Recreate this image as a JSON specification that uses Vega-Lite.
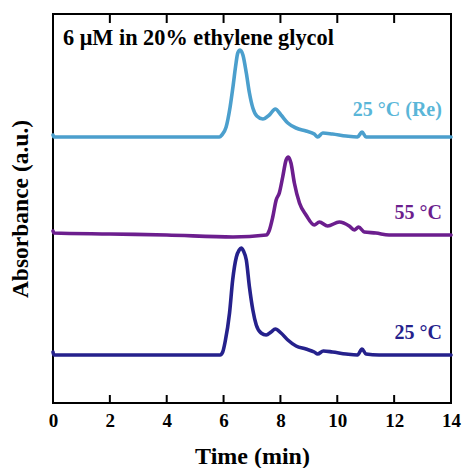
{
  "$schema": "https://vega.github.io/schema/vega-lite/v6.json",
  "width": 398,
  "height": 389,
  "autosize": {"type": "none"},
  "padding": {"left": 53, "top": 14, "right": 13, "bottom": 65},
  "background": "white",
  "config": {
    "view": {"stroke": "black", "strokeWidth": 2},
    "font": "Liberation Serif"
  },
  "datasets": {
    "curves": [
      {"series": "25", "t": 0, "a": 51}, {"series": "25", "t": 0.03, "a": 48}, {"series": "25", "t": 2, "a": 48}, {"series": "25", "t": 4, "a": 48}, {"series": "25", "t": 5.88, "a": 48}, {"series": "25", "t": 5.97, "a": 51}, {"series": "25", "t": 6.06, "a": 62}, {"series": "25", "t": 6.21, "a": 90}, {"series": "25", "t": 6.32, "a": 123}, {"series": "25", "t": 6.45, "a": 146}, {"series": "25", "t": 6.55, "a": 153}, {"series": "25", "t": 6.62, "a": 155}, {"series": "25", "t": 6.7, "a": 152}, {"series": "25", "t": 6.8, "a": 143}, {"series": "25", "t": 6.91, "a": 116}, {"series": "25", "t": 7.03, "a": 93}, {"series": "25", "t": 7.15, "a": 78}, {"series": "25", "t": 7.32, "a": 70}, {"series": "25", "t": 7.5, "a": 68}, {"series": "25", "t": 7.67, "a": 71}, {"series": "25", "t": 7.82, "a": 74}, {"series": "25", "t": 8.02, "a": 70}, {"series": "25", "t": 8.26, "a": 63}, {"series": "25", "t": 8.55, "a": 57}, {"series": "25", "t": 8.9, "a": 54}, {"series": "25", "t": 9.19, "a": 51}, {"series": "25", "t": 9.31, "a": 49}, {"series": "25", "t": 9.51, "a": 52}, {"series": "25", "t": 9.83, "a": 51}, {"series": "25", "t": 10.31, "a": 49}, {"series": "25", "t": 10.71, "a": 48}, {"series": "25", "t": 10.87, "a": 54}, {"series": "25", "t": 11.01, "a": 49}, {"series": "25", "t": 11.47, "a": 48}, {"series": "25", "t": 12, "a": 48}, {"series": "25", "t": 14, "a": 48},
      {"series": "55", "t": 0, "a": 172}, {"series": "55", "t": 0.03, "a": 170}, {"series": "55", "t": 2, "a": 169}, {"series": "55", "t": 4, "a": 168}, {"series": "55", "t": 6.33, "a": 166}, {"series": "55", "t": 7.5, "a": 168}, {"series": "55", "t": 7.6, "a": 172}, {"series": "55", "t": 7.73, "a": 186}, {"series": "55", "t": 7.85, "a": 203}, {"series": "55", "t": 7.96, "a": 210}, {"series": "55", "t": 8.08, "a": 226}, {"series": "55", "t": 8.2, "a": 243}, {"series": "55", "t": 8.28, "a": 246}, {"series": "55", "t": 8.37, "a": 240}, {"series": "55", "t": 8.49, "a": 220}, {"series": "55", "t": 8.67, "a": 200}, {"series": "55", "t": 8.9, "a": 188}, {"series": "55", "t": 9.19, "a": 178}, {"series": "55", "t": 9.37, "a": 181}, {"series": "55", "t": 9.66, "a": 177}, {"series": "55", "t": 10.07, "a": 181}, {"series": "55", "t": 10.42, "a": 177}, {"series": "55", "t": 10.6, "a": 173}, {"series": "55", "t": 10.75, "a": 176}, {"series": "55", "t": 10.95, "a": 171}, {"series": "55", "t": 11.36, "a": 170}, {"series": "55", "t": 11.82, "a": 168}, {"series": "55", "t": 14, "a": 168},
      {"series": "Re", "t": 0, "a": 268}, {"series": "Re", "t": 0.03, "a": 266}, {"series": "Re", "t": 2, "a": 266}, {"series": "Re", "t": 4, "a": 266}, {"series": "Re", "t": 5.85, "a": 266}, {"series": "Re", "t": 5.94, "a": 268}, {"series": "Re", "t": 6.09, "a": 276}, {"series": "Re", "t": 6.23, "a": 296}, {"series": "Re", "t": 6.33, "a": 316}, {"series": "Re", "t": 6.42, "a": 336}, {"series": "Re", "t": 6.5, "a": 350}, {"series": "Re", "t": 6.58, "a": 353}, {"series": "Re", "t": 6.68, "a": 348}, {"series": "Re", "t": 6.8, "a": 330}, {"series": "Re", "t": 6.91, "a": 310}, {"series": "Re", "t": 7.03, "a": 295}, {"series": "Re", "t": 7.17, "a": 287}, {"series": "Re", "t": 7.38, "a": 284}, {"series": "Re", "t": 7.61, "a": 288}, {"series": "Re", "t": 7.82, "a": 294}, {"series": "Re", "t": 8.02, "a": 288}, {"series": "Re", "t": 8.26, "a": 280}, {"series": "Re", "t": 8.55, "a": 275}, {"series": "Re", "t": 8.9, "a": 272}, {"series": "Re", "t": 9.19, "a": 269}, {"series": "Re", "t": 9.31, "a": 266}, {"series": "Re", "t": 9.49, "a": 270}, {"series": "Re", "t": 9.83, "a": 269}, {"series": "Re", "t": 10.31, "a": 267}, {"series": "Re", "t": 10.71, "a": 266}, {"series": "Re", "t": 10.87, "a": 271}, {"series": "Re", "t": 11.01, "a": 266}, {"series": "Re", "t": 11.47, "a": 266}, {"series": "Re", "t": 12, "a": 266}, {"series": "Re", "t": 14, "a": 266}
    ],
    "labels": [
      {"series": "Re", "t": 13.68, "a": 293, "label": "25 °C (Re)"},
      {"series": "55", "t": 13.68, "a": 190, "label": "55 °C"},
      {"series": "25", "t": 13.68, "a": 70, "label": "25 °C"}
    ],
    "heading": [
      {"t": 0.35, "a": 365, "label": "6 μM in 20% ethylene glycol"}
    ],
    "ticks": [
      {"t": 0}, {"t": 2}, {"t": 4}, {"t": 6}, {"t": 8}, {"t": 10}, {"t": 12}, {"t": 14}
    ]
  },
  "resolve": {"scale": {"color": "independent"}},
  "layer": [
    {
      "data": {"name": "curves"},
      "mark": {"type": "line", "strokeWidth": 3.6, "strokeJoin": "round", "strokeCap": "round", "interpolate": "monotone"},
      "encoding": {
        "x": {"field": "t", "type": "quantitative", "scale": {"domain": [0, 14], "nice": false},
          "axis": {"orient": "bottom", "values": [0, 2, 4, 6, 8, 10, 12, 14], "grid": false, "ticks": false, "domain": false, "labelFont": "Liberation Serif", "labelFontWeight": "bold", "labelFontSize": 19, "labelColor": "black", "labelPadding": 8, "labelFlush": false, "title": "Time (min)", "titleFont": "Liberation Serif", "titleFontWeight": "bold", "titleFontSize": 24, "titleColor": "black", "titlePadding": 14}},
        "y": {"field": "a", "type": "quantitative", "scale": {"domain": [0, 389], "nice": false},
          "axis": {"orient": "left", "labels": false, "ticks": false, "grid": false, "domain": false, "title": "Absorbance (a.u.)", "titleFont": "Liberation Serif", "titleFontWeight": "bold", "titleFontSize": 23.5, "titleColor": "black", "titlePadding": 21}},
        "color": {"field": "series", "type": "nominal", "scale": {"domain": ["25", "55", "Re"], "range": ["#25218c", "#6c1e8e", "#4b9fcd"]}, "legend": null}
      }
    },
    {
      "data": {"name": "labels"},
      "mark": {"type": "text", "align": "right", "baseline": "middle", "font": "Liberation Serif", "fontWeight": "bold", "fontSize": 20},
      "encoding": {
        "x": {"field": "t", "type": "quantitative"},
        "y": {"field": "a", "type": "quantitative"},
        "text": {"field": "label"},
        "color": {"field": "series", "type": "nominal", "scale": {"domain": ["25", "55", "Re"], "range": ["#25218c", "#6c1e8e", "#5ab6d8"]}, "legend": null}
      }
    },
    {
      "data": {"name": "heading"},
      "mark": {"type": "text", "align": "left", "baseline": "middle", "font": "Liberation Serif", "fontWeight": "bold", "fontSize": 22.3, "color": "black"},
      "encoding": {
        "x": {"field": "t", "type": "quantitative"},
        "y": {"field": "a", "type": "quantitative"},
        "text": {"field": "label"}
      }
    },
    {
      "data": {"name": "ticks"},
      "mark": {"type": "rule", "strokeWidth": 2, "color": "black"},
      "encoding": {
        "x": {"field": "t", "type": "quantitative"},
        "y": {"datum": 0},
        "y2": {"datum": 8}
      }
    },
    {
      "data": {"name": "ticks"},
      "mark": {"type": "rule", "strokeWidth": 2, "color": "black"},
      "encoding": {
        "x": {"field": "t", "type": "quantitative"},
        "y": {"datum": 380},
        "y2": {"datum": 389}
      }
    }
  ]
}
